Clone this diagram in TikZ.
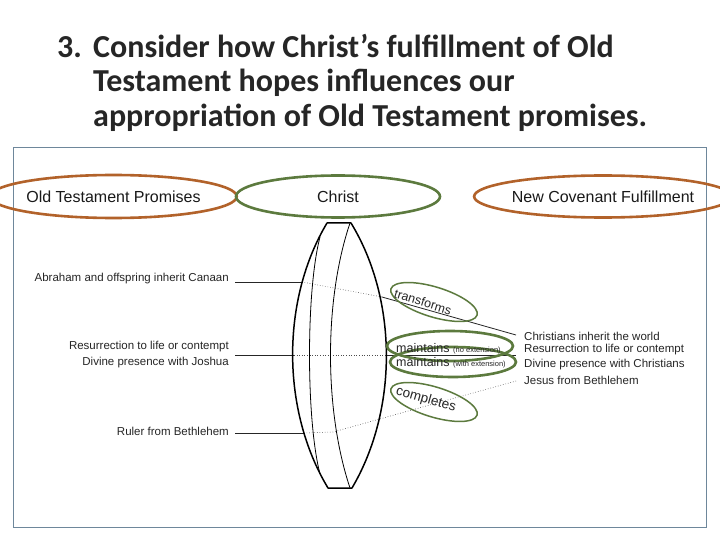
\documentclass[tikz,border=0pt]{standalone}
\usepackage{fontspec}
\usetikzlibrary{shapes.geometric}
\setmainfont{Liberation Sans}
\newfontfamily\titlefont{Carlito}
\definecolor{ochre}{RGB}{178,98,42}
\definecolor{leaf}{RGB}{92,122,62}
\definecolor{framec}{RGB}{110,135,155}
\tikzset{
  x=1pt,y=-1pt,
  titleline/.style={anchor=base west,inner sep=0,font=\titlefont\fontsize{32pt}{36pt}\selectfont\bfseries,text=black!85},
  lableft/.style={anchor=east,inner sep=0,font=\fontsize{11.5pt}{13pt}\selectfont,text=black!85},
  labright/.style={anchor=west,inner sep=0,font=\fontsize{11.5pt}{13pt}\selectfont,text=black!85},
  ring/.style={ellipse,inner sep=0,outer sep=0,font=\fontsize{16pt}{18pt}\selectfont,text=black!90},
  bigO/.style={ring,draw=ochre,line width=2.6pt},
  bigG/.style={ring,draw=leaf,line width=2.6pt},
  midG/.style={ellipse,inner sep=0,outer sep=0,draw=leaf,line width=2.6pt,minimum width=126pt,minimum height=30pt},
  thinG/.style={ellipse,inner sep=0,outer sep=0,draw=leaf,line width=1.5pt,minimum width=90pt,minimum height=30pt},
  verb/.style={inner sep=0,text=black!85},
  solidline/.style={draw=black!85,line width=.8pt},
  dotline/.style={draw=black!70,line width=.6pt,dotted},
}
\begin{document}
\begin{tikzpicture}
\useasboundingbox (0,0) rectangle (720,540);
\fill[white] (0,0) rectangle (720,540);
\node[titleline] (t0) at (57,58) {3.};
\node[titleline] (t1) at (93,58) {Consider how Christ’s fulfillment of Old};
\node[titleline] (t2) at (93,92) {Testament hopes influences our};
\node[titleline] (t3) at (93,127) {appropriation of Old Testament promises.};
\draw[framec,line width=.8pt] (13.5,147.5) rectangle (706.5,527.5);
% headers
\node[bigO,minimum width=198pt,minimum height=43pt] (h1) at (113.5,196.5) {Old Testament Promises};
\node[bigG,minimum width=204pt,minimum height=42pt] (h2) at (338,196.5) {Christ};
\node[bigO,minimum width=190pt,minimum height=42pt] (h3) at (603,196.5) {New Covenant Fulfillment};
% left labels
\node[lableft] (a1) at (229,279) {Abraham and offspring inherit Canaan};
\node[lableft] (a2) at (229,347) {Resurrection to life or contempt};
\node[lableft] (a3) at (229,363) {Divine presence with Joshua};
\node[lableft] (a4) at (229,431) {Ruler from Bethlehem};
% right labels
\node[labright] (b1) at (524,336) {Christians inherit the world};
\node[labright] (b2) at (524,350) {Resurrection to life or contempt};
\node[labright] (b3) at (524,365) {Divine presence with Christians};
\node[labright] (b4) at (524,380) {Jesus from Bethlehem};
% connector waypoints
\coordinate (p1) at (235,282); \coordinate (q1) at (302,282); \coordinate (r1) at (382,297); \coordinate (s1) at (516,335);
\coordinate (p2) at (235,355.5); \coordinate (q2) at (294,355.5); \coordinate (r2) at (387,355.5); \coordinate (s2) at (516,355.5);
\coordinate (p3) at (235,433); \coordinate (q3) at (304,433); \coordinate (r3) at (333,432); \coordinate (s3) at (516,381);
\draw[solidline] (p1) -- (q1);
\draw[dotline] (q1) -- (r1);
\draw[solidline] (r1) -- (s1);
\draw[solidline] (p2) -- (q2);
\draw[dotline] (q2) -- (r2);
\draw[solidline] (r2) -- (s2);
\draw[solidline] (p3) -- (q3);
\draw[dotline] (q3) -- (r3) -- (s3);
% lens
\draw[line width=1.5pt,line join=round] (327,223) -- (351,223) .. controls (398,300) and (398,410) .. (352,488) -- (328,488) .. controls (281,410) and (281,300) .. (327,223) -- cycle;
\draw[line width=.8pt] (320,237) .. controls (306,290) and (306,420) .. (320,474);
\draw[line width=.8pt] (350,223) .. controls (324,300) and (324,410) .. (350,488);
% green rings
\node[thinG,rotate=-17] (e1) at (434,302) {};
\node[midG] (e2) at (450,346) {};
\node[midG] (e3) at (453,362) {};
\node[thinG,rotate=-17] (e4) at (434,402) {};
% ring texts
\node[verb,rotate=-17,font=\fontsize{12.5pt}{14pt}\selectfont] (v1) at (423,302) {transforms};
\node[verb,anchor=base west] (v2) at (396,352) {\fontsize{12.5pt}{14pt}\selectfont maintains \fontsize{7.5pt}{9pt}\selectfont(no extension)};
\node[verb,anchor=base west] (v3) at (396,366.5) {\fontsize{12.5pt}{14pt}\selectfont maintains \fontsize{7.5pt}{9pt}\selectfont(with extension)};
\node[verb,rotate=16,rotate=-32,font=\fontsize{13.5pt}{15pt}\selectfont] (v4) at (426,400) {completes};
\end{tikzpicture}
\end{document}
